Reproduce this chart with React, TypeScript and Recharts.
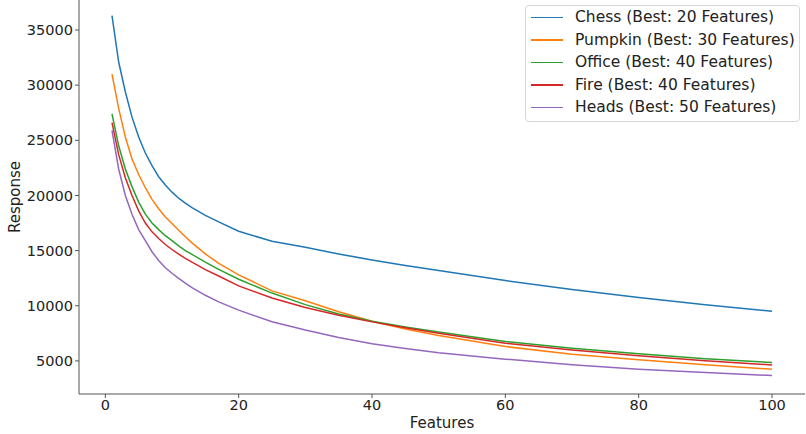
import React from "react";
import { LineChart, Line, XAxis, YAxis } from "recharts";

const features = [1, 2, 3, 4, 5, 6, 7, 8, 9, 10, 11, 12, 13, 15, 17, 20, 25, 30, 35, 40, 45, 50, 60, 70, 80, 90, 100];

const chess = [36300, 32100, 29400, 27100, 25300, 23850, 22700, 21700, 20950, 20300, 19750, 19300, 18900, 18200, 17600, 16750, 15850, 15300, 14700, 14150, 13650, 13200, 12280, 11480, 10740, 10100, 9500];
const pumpkin = [31000, 27900, 25300, 23300, 21900, 20700, 19650, 18800, 18050, 17450, 16850, 16250, 15700, 14700, 13850, 12800, 11350, 10450, 9450, 8600, 7900, 7300, 6300, 5600, 5100, 4650, 4250];
const office = [27400, 24500, 22400, 20800, 19400, 18300, 17500, 16900, 16350, 15900, 15430, 15000, 14650, 13950, 13300, 12400, 11150, 10100, 9250, 8600, 8080, 7620, 6760, 6150, 5640, 5200, 4850];
const fire = [26600, 23700, 21600, 20000, 18600, 17500, 16700, 16100, 15550, 15100, 14680, 14300, 13950, 13280, 12700, 11800, 10700, 9850, 9130, 8540, 8000, 7500, 6610, 5980, 5460, 5020, 4640];
const heads = [25900, 22400, 20000, 18300, 16900, 15900, 14900, 14100, 13450, 12950, 12480, 12050, 11650, 10950, 10350, 9600, 8550, 7800, 7130, 6550, 6120, 5750, 5160, 4650, 4250, 3950, 3670];

const xTicks = [0, 20, 40, 60, 80, 100];
const yTicks = [5000, 10000, 15000, 20000, 25000, 30000, 35000];

const series = [
  { key: "chess", name: "Chess (Best: 20 Features)", color: "#1f77b4", values: chess },
  { key: "pumpkin", name: "Pumpkin (Best: 30 Features)", color: "#ff7f0e", values: pumpkin },
  { key: "office", name: "Office (Best: 40 Features)", color: "#2ca02c", values: office },
  { key: "fire", name: "Fire (Best: 40 Features)", color: "#d62728", values: fire },
  { key: "heads", name: "Heads (Best: 50 Features)", color: "#9467bd", values: heads },
];

const data = features.map((f, i) => {
  const row: Record<string, number> = { features: f };
  series.forEach((s) => (row[s.key] = s.values[i]));
  return row;
});

const FONT = "'DejaVu Sans', sans-serif";
const axisColor = "#555";
const tickStyle = { fontSize: 14.5, fill: "#222", fontFamily: FONT };

const YLabel = (props: any) => {
  const vb = props.viewBox || { y: 0, height: 394 };
  const cy = vb.y + vb.height / 2;
  return (
    <text
      transform={`translate(15, ${cy}) rotate(-90)`}
      textAnchor="middle"
      dominantBaseline="central"
      fontSize={15}
      fontFamily={FONT}
      fill="#222"
    >
      Response
    </text>
  );
};

const ChartLegend = () => (
  <div
    style={{
      position: "absolute",
      left: 525,
      top: 5,
      width: 268,
      padding: "0 0 2px 5px",
      border: "1px solid #d6d6d6",
      borderRadius: 4,
      background: "rgba(255,255,255,0.8)",
      fontFamily: FONT,
      fontSize: 15.5,
      color: "#222",
      boxSizing: "content-box",
    }}
  >
    {series.map((s) => (
      <div key={s.key} style={{ display: "flex", alignItems: "center", height: 22.5 }}>
        <div style={{ width: 32, height: 1.5, background: s.color, marginRight: 12 }} />
        <span style={{ whiteSpace: "nowrap" }}>{s.name}</span>
      </div>
    ))}
  </div>
);

export default function App() {
  return (
    <div style={{ position: "absolute", left: 0, top: 0, width: 806, height: 434, background: "#fff" }}>
      <LineChart width={806} height={434} data={data} margin={{ top: 0, right: 1, bottom: 0, left: 0 }}>
        <XAxis
          dataKey="features"
          type="number"
          domain={[-3.95, 104.95]}
          ticks={xTicks}
          allowDataOverflow
          height={40}
          tick={tickStyle}
          tickSize={4}
          tickMargin={2}
          stroke={axisColor}
          label={{ value: "Features", position: "insideBottom", offset: 6, fontSize: 15, fontFamily: FONT, fill: "#222" }}
        />
        <YAxis
          type="number"
          domain={[2000, 37720]}
          ticks={yTicks}
          allowDataOverflow
          width={79}
          tick={tickStyle}
          tickSize={4}
          tickMargin={2}
          stroke={axisColor}
          label={<YLabel />}
        />
        {series.map((s) => (
          <Line
            key={s.key}
            type="linear"
            dataKey={s.key}
            name={s.name}
            stroke={s.color}
            strokeWidth={1.5}
            dot={false}
            isAnimationActive={false}
          />
        ))}
      </LineChart>
      <ChartLegend />
    </div>
  );
}
